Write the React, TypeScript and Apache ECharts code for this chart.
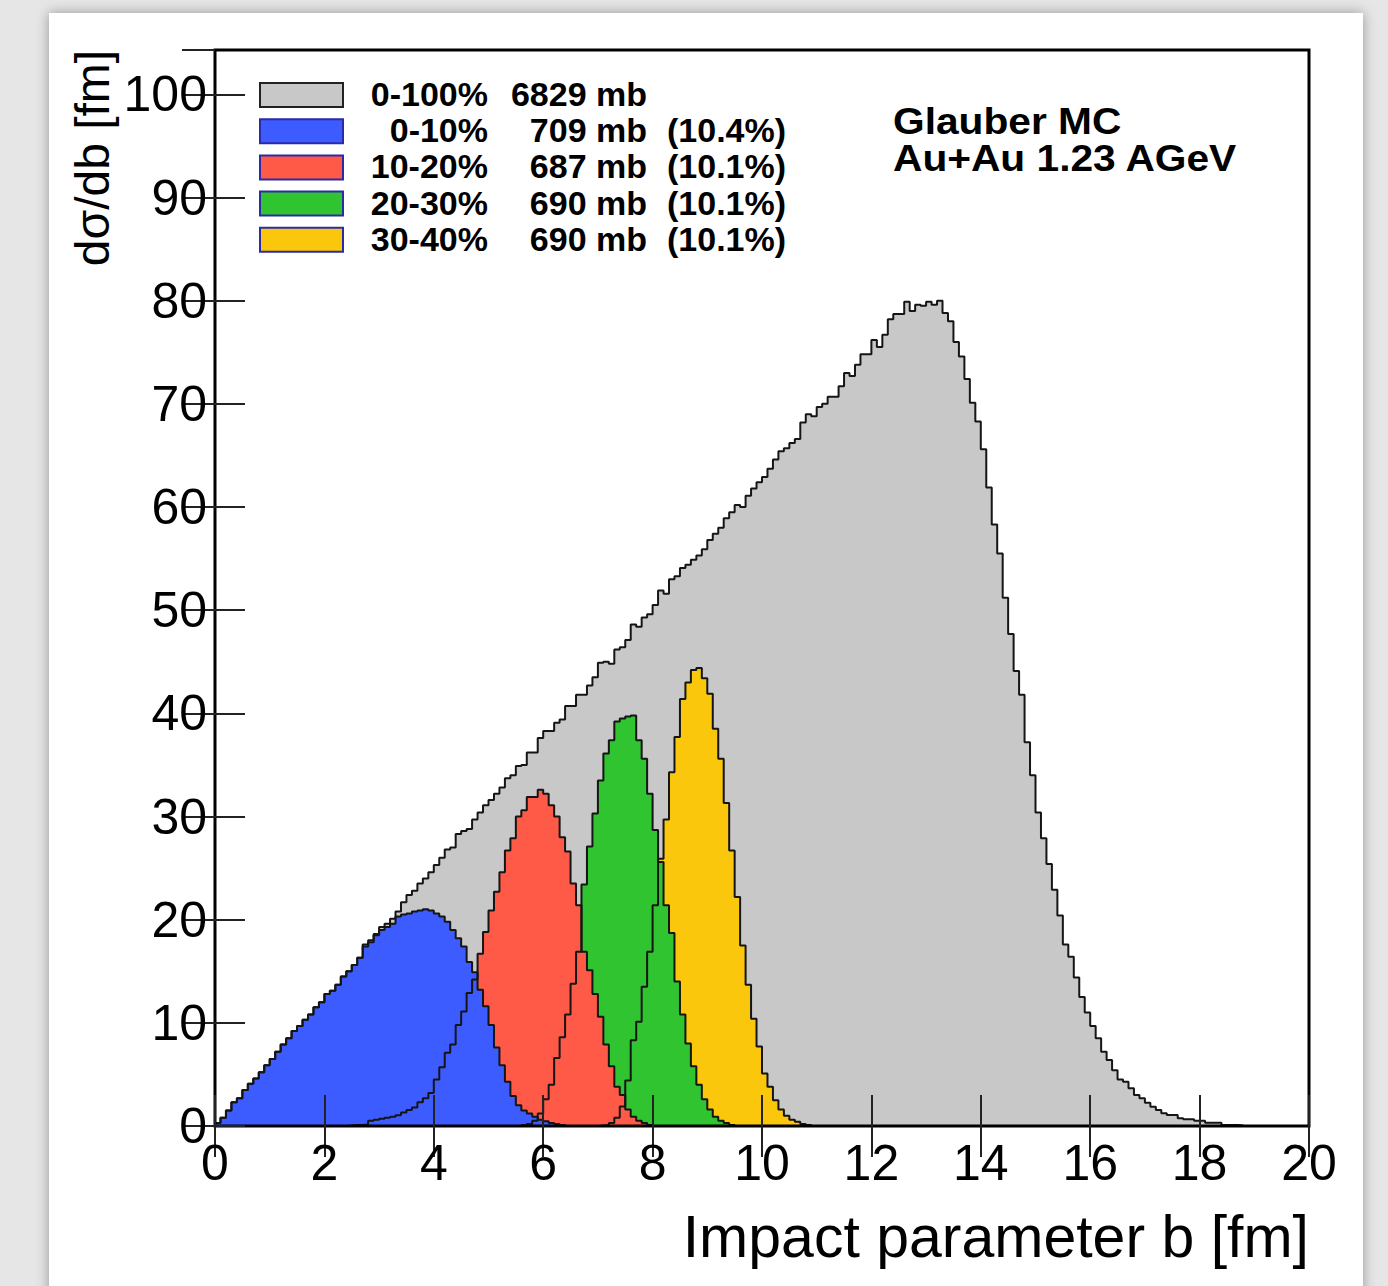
import React, { useEffect, useRef } from "react";
import * as echarts from "echarts";

// Histogram binning: 200 bins of 0.1 fm between 0 and 20 fm
const BIN_WIDTH = 0.1;

// Minimum-bias distribution, 0-100%
const grayStart = 0;
const grayValues = [
  0.3, 0.8, 1.5, 2.3, 2.7, 3.5, 4.1, 4.6, 5.2, 5.9,
  6.5, 7.2, 7.9, 8.5, 9.2, 9.7, 10.3, 10.8, 11.5, 12.0,
  12.8, 13.1, 13.7, 14.5, 15.0, 15.6, 16.3, 17.6, 18.0, 18.6,
  19.3, 19.6, 20.1, 20.8, 21.7, 22.4, 22.8, 23.5, 24.0, 24.6,
  25.3, 26.0, 26.8, 27.0, 28.3, 28.6, 28.8, 29.7, 30.4, 31.1,
  31.6, 32.2, 32.8, 33.7, 34.0, 34.9, 35.0, 36.2, 36.2, 37.6,
  38.3, 38.3, 39.1, 39.4, 40.7, 40.7, 41.8, 41.8, 42.7, 43.5,
  44.9, 45.0, 44.8, 46.2, 46.4, 47.1, 48.6, 48.4, 49.3, 49.6,
  50.5, 51.9, 51.6, 53.0, 53.3, 54.1, 54.4, 54.9, 55.3, 55.9,
  56.8, 57.4, 58.0, 58.9, 59.5, 60.2, 60.0, 61.1, 61.8, 62.4,
  62.9, 63.7, 64.6, 65.4, 65.7, 66.2, 66.6, 68.2, 69.0, 68.8,
  69.7, 70.0, 70.7, 70.7, 71.7, 73.0, 72.7, 73.8, 74.8, 74.8,
  76.2, 75.5, 76.7, 78.2, 78.7, 78.7, 79.9, 79.0, 79.6, 79.5,
  79.9, 79.6, 80.0, 78.8, 78.0, 76.0, 74.6, 72.4, 70.1, 68.3,
  65.6, 61.9, 58.3, 55.5, 51.2, 47.7, 44.1, 41.8, 37.2, 34.0,
  30.4, 27.9, 25.4, 22.9, 20.4, 17.6, 16.4, 14.4, 12.5, 11.0,
  9.7, 8.5, 7.2, 6.4, 5.4, 4.5, 4.3, 3.65, 3.0, 2.7,
  2.26, 1.87, 1.55, 1.23, 1.07, 1.07, 0.75, 0.65, 0.65, 0.52,
  0.52, 0.32, 0.32, 0.32, 0.1, 0.1, 0.1, 0.05,
];

// 0-10% centrality class
const blueStart = 0;
const blueValues = [
  0.3, 0.8, 1.5, 2.3, 2.7, 3.5, 4.1, 4.6, 5.2, 5.9,
  6.5, 7.2, 7.9, 8.5, 9.2, 9.7, 10.3, 10.8, 11.5, 12.0,
  12.8, 13.1, 13.7, 14.5, 15.0, 15.6, 16.3, 17.4, 17.8, 18.5,
  19.0, 19.3, 19.6, 20.3, 20.5, 20.6, 20.8, 20.9, 21.0, 20.9,
  20.6, 20.3, 19.8, 19.0, 18.2, 17.4, 15.9, 14.9, 13.2, 11.6,
  9.8, 7.6, 5.9, 4.3, 2.9, 2.0, 1.5, 1.2, 0.9, 0.6,
  0.45, 0.3, 0.2, 0.1,
];

// 10-20% centrality class
const redStart = 24;
const redValues = [
  0.05, 0.1, 0.1, 0.15, 0.5, 0.6, 0.7, 0.8, 0.9, 1.05,
  1.3, 1.55, 1.8, 2.3, 2.7, 3.2, 4.5, 5.7, 7.1, 7.9,
  9.8, 11.1, 12.9, 14.2, 16.7, 18.8, 20.9, 22.7, 24.6, 26.7,
  27.9, 30.0, 30.6, 31.9, 31.9, 32.6, 32.2, 31.1, 30.0, 28.0,
  26.6, 23.5, 21.4, 16.9, 15.1, 12.8, 10.6, 7.9, 5.8, 3.8,
  3.0, 1.6, 0.9, 0.5, 0.3, 0.1,
];

// 20-30% centrality class
const greenStart = 56;
const greenValues = [
  0.1, 0.2, 0.5, 1.2, 2.6, 4.0, 6.6, 8.6, 10.8, 13.8,
  16.9, 23.4, 27.1, 30.3, 33.5, 36.1, 37.4, 39.2, 39.5, 39.7,
  39.8, 37.4, 35.6, 32.2, 28.7, 25.6, 21.4, 18.7, 14.0, 10.8,
  8.0, 5.8, 4.0, 2.6, 1.6, 0.9, 0.5, 0.3, 0.1,
];

// 30-40% centrality class
const yellowStart = 70;
const yellowValues = [
  0.05, 0.1, 0.3, 0.8, 1.9, 4.4, 8.3, 10.1, 13.5, 16.9,
  21.4, 25.9, 29.7, 34.3, 37.7, 41.4, 43.0, 44.2, 44.4, 43.4,
  41.9, 38.5, 35.6, 31.3, 26.7, 22.2, 17.5, 13.7, 10.4, 7.7,
  5.1, 3.8, 2.5, 1.6, 1.0, 0.6, 0.4, 0.2, 0.1,
];

// Legend entries
const legendRanges = ["0-100%", "0-10%", "10-20%", "20-30%", "30-40%"];
const legendXsec = ["6829 mb", "709 mb", "687 mb", "690 mb", "690 mb"];
const legendFractions = ["", "(10.4%)", "(10.1%)", "(10.1%)", "(10.1%)"];

const COLORS = {
  gray: "#c8c8c8",
  blue: "#3d5cff",
  red: "#ff5a47",
  green: "#31c431",
  yellow: "#fbc70c",
};
const legendColors = [COLORS.gray, COLORS.blue, COLORS.red, COLORS.green, COLORS.yellow];

const FONT = '"Liberation Sans", Arial, Helvetica, sans-serif';

// Turn bin contents into step-line vertices (left edge of each bin, closed to zero)
function histPoints(start: number, values: number[]): number[][] {
  const pts: number[][] = [[start * BIN_WIDTH, 0]];
  values.forEach((v, i) => pts.push([(start + i) * BIN_WIDTH, v]));
  pts.push([(start + values.length) * BIN_WIDTH, 0]);
  return pts;
}

function fillSeries(name: string, data: number[][], color: string) {
  return {
    name,
    type: "line",
    data,
    step: "end",
    symbol: "none",
    showSymbol: false,
    silent: true,
    z: 2,
    lineStyle: { width: 0, opacity: 0 },
    areaStyle: { color, opacity: 1 },
  };
}

function outlineSeries(name: string, data: number[][]) {
  return {
    name: name + " outline",
    type: "line",
    data,
    step: "end",
    symbol: "none",
    showSymbol: false,
    silent: true,
    z: 3,
    lineStyle: { width: 2, color: "#151515" },
  };
}

export default function App() {
  const ref = useRef<HTMLDivElement>(null);

  useEffect(() => {
    if (!ref.current) return;
    const chart = echarts.init(ref.current, undefined, { renderer: "svg" });

    const gray = histPoints(grayStart, grayValues);
    const blue = histPoints(blueStart, blueValues);
    const red = histPoints(redStart, redValues);
    const green = histPoints(greenStart, greenValues);
    const yellow = histPoints(yellowStart, yellowValues);

    const tickStyle = { color: "#222", width: 2 };
    const legendTop = 95;
    const legendStep = 36.2;

    const legendText = (text: string, x: number, y: number, align: string) => ({
      type: "text",
      x,
      y,
      style: {
        text,
        font: `bold 34px ${FONT}`,
        lineHeight: 30,
        fill: "#000",
        textAlign: align,
        textVerticalAlign: "middle",
      },
    });

    const legendGraphics: any[] = [];
    legendRanges.forEach((r, i) => {
      const cy = legendTop + i * legendStep;
      legendGraphics.push({
        type: "rect",
        shape: { x: 260, y: cy - 12, width: 83, height: 24 },
        style: {
          fill: legendColors[i],
          stroke: i === 0 ? "#222" : "#2b2ba8",
          lineWidth: 2,
        },
      });
      legendGraphics.push(legendText(r, 488, cy - 1, "right"));
      legendGraphics.push(legendText(legendXsec[i], 647, cy - 1, "right"));
      if (legendFractions[i]) {
        legendGraphics.push(legendText(legendFractions[i], 667, cy - 1, "left"));
      }
    });

    const option: any = {
      animation: false,
      grid: {
        left: 215,
        top: 50,
        width: 1094,
        height: 1076,
        show: true,
        borderColor: "#000",
        borderWidth: 3,
        backgroundColor: "transparent",
        z: 10,
      },
      xAxis: [
        {
          type: "value",
          min: 0,
          max: 20,
          interval: 2,
          position: "bottom",
          axisLine: { show: false },
          axisTick: { inside: true, length: 31, lineStyle: tickStyle },
          axisLabel: { fontSize: 50, color: "#000", margin: 12, fontFamily: FONT },
          splitLine: { show: false },
          z: 10,
        },
        {
          type: "value",
          min: 0,
          max: 20,
          interval: 2,
          position: "top",
          axisLine: { show: false },
          axisTick: { inside: true, length: 31, lineStyle: tickStyle },
          axisLabel: { show: false },
          splitLine: { show: false },
          z: 10,
        },
      ],
      yAxis: [
        {
          type: "value",
          min: 0,
          max: 104.3,
          interval: 10,
          position: "left",
          axisLine: { show: false },
          axisTick: { inside: true, length: 30, lineStyle: tickStyle },
          axisLabel: {
            fontSize: 50,
            color: "#000",
            margin: 8,
            fontFamily: FONT,
            showMaxLabel: false,
            formatter: (v: number) => (Math.abs(v % 10) < 1e-6 ? String(v) : ""),
          },
          splitLine: { show: false },
          z: 10,
        },
        {
          type: "value",
          min: 0,
          max: 104.3,
          interval: 10,
          position: "right",
          axisLine: { show: false },
          axisTick: { inside: true, length: 33, lineStyle: tickStyle },
          axisLabel: { show: false },
          splitLine: { show: false },
          z: 10,
        },
      ],
      series: [
        fillSeries("0-100%", gray, COLORS.gray),
        fillSeries("30-40%", yellow, COLORS.yellow),
        fillSeries("20-30%", green, COLORS.green),
        fillSeries("10-20%", red, COLORS.red),
        fillSeries("0-10%", blue, COLORS.blue),
        outlineSeries("0-100%", gray),
        outlineSeries("30-40%", yellow),
        outlineSeries("20-30%", green),
        outlineSeries("10-20%", red),
        outlineSeries("0-10%", blue),
      ],
      graphic: [
        ...legendGraphics,
        {
          type: "text",
          x: 893,
          y: 139.5,
          scaleX: 1.1,
          style: {
            text: "Glauber MC\nAu+Au 1.23 AGeV",
            font: `bold 37px ${FONT}`,
            lineHeight: 37,
            fill: "#000",
            textAlign: "left",
            textVerticalAlign: "middle",
          },
        },
        {
          type: "text",
          x: 1309,
          y: 1237,
          style: {
            text: "Impact parameter b [fm]",
            font: `59px ${FONT}`,
            fill: "#000",
            textAlign: "right",
            textVerticalAlign: "middle",
          },
        },
        {
          type: "text",
          x: 92,
          y: 158,
          rotation: Math.PI / 2,
          style: {
            text: "dσ/db [fm]",
            font: `48px ${FONT}`,
            fill: "#000",
            textAlign: "center",
            textVerticalAlign: "middle",
          },
        },
      ],
    };

    chart.setOption(option);
    return () => chart.dispose();
  }, []);

  return (
    <div
      style={{
        position: "fixed",
        left: 0,
        top: 0,
        width: 1388,
        height: 1286,
        background: "#e6e6e6",
        overflow: "hidden",
      }}
    >
      <div
        style={{
          position: "absolute",
          left: 49,
          top: 13,
          width: 1314,
          height: 1320,
          background: "#ffffff",
          boxShadow: "0 0 12px rgba(0,0,0,0.35)",
        }}
      />
      <div
        ref={ref}
        style={{ position: "absolute", left: 0, top: 0, width: 1388, height: 1286 }}
      />
    </div>
  );
}
